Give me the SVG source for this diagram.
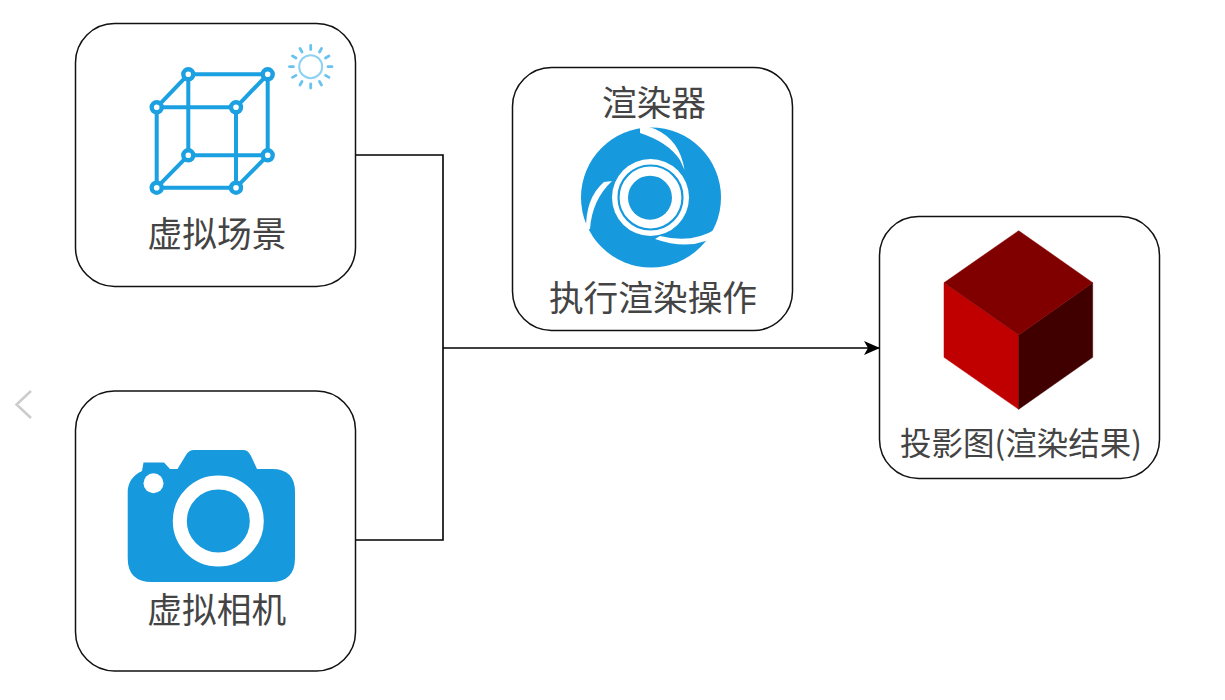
<svg xmlns="http://www.w3.org/2000/svg" width="1225" height="700" viewBox="0 0 1225 700">
<defs>
<style>
.box{fill:#fff;stroke:#111;stroke-width:1.5}
.lbl{font-family:"Noto Sans CJK SC","Noto Sans",sans-serif;fill:#444;text-anchor:middle}
.big{font-size:34.700px}
.conn{fill:none;stroke:#000;stroke-width:1.6}
.wire{fill:none;stroke:#1ba0e1;stroke-width:4}
.dot{fill:#fff;stroke:#1ba0e1;stroke-width:4.4}
.ray{stroke:#68c3ef;stroke-width:2.8;stroke-linecap:round}
.slit{fill:#fff}
.blue{fill:#1799dd}
</style>
<marker id="arrow" markerUnits="userSpaceOnUse" markerWidth="17" markerHeight="14" refX="16" refY="7" orient="auto"><path d="M0 0L16 7L0 14L4 7Z" fill="#000"/></marker>
</defs>
<rect width="1225" height="700" fill="#fff"/>
<path d="M31 391L16.500 404.500L31 418" fill="none" stroke="#ccc" stroke-width="2.500"/>
<g id="connectors">
<path class="conn" d="M356 155H443V348"/>
<path class="conn" d="M356 540H443V348"/>
<path class="conn" d="M443 348H880" marker-end="url(#arrow)"/>
</g>
<g id="scene">
<rect class="box" x="75.500" y="23.500" width="280" height="263" rx="39"/>
<path class="wire" d="M156.700 107.300H236V187.700H156.700ZM188.300 74.300H267.700V155.300H188.300ZM156.700 107.300L188.300 74.300M236 107.300L267.700 74.300M156.700 187.700L188.300 155.300M236 187.700L267.700 155.300"/>
<g class="dot"><circle cx="156.700" cy="107.300" r="5"/><circle cx="236" cy="107.300" r="5"/><circle cx="188.300" cy="74.300" r="5"/><circle cx="267.700" cy="74.300" r="5"/><circle cx="156.700" cy="187.700" r="5"/><circle cx="236" cy="187.700" r="5"/><circle cx="188.300" cy="155.300" r="5"/><circle cx="267.700" cy="155.300" r="5"/></g>
<circle cx="310.700" cy="66.700" r="11.500" fill="none" stroke="#8dd2f3" stroke-width="2"/>
<g class="ray"><path d="M310.700 45.500V49.500M310.700 84V88M289.500 66.700H293.500M328 66.700H332M300 48.500L302 52M319.500 81.500L321.500 85M292.500 56L296 58M325.500 75.400L329 77.400M321.500 48.500L319.500 52M302 81.500L300 85M329 56L325.500 58M296 75.400L292.500 77.400"/></g>
<text class="lbl big" x="217" y="247">虚拟场景</text>
</g>
<g id="camera">
<rect class="box" x="75.500" y="391" width="280" height="280" rx="39"/>
<path d="M142 471L143.500 462.500H164L170 469H177.500L186 455Q189 450 194 450H244Q248 450 251 456L257 469H272Q295 469 295 492V558Q295 582 271 582H152Q127.700 582 127.700 558V492Q127.700 478 142 471Z" class="blue"/>
<circle cx="153.500" cy="483.300" r="10" fill="#fff"/>
<circle cx="218.300" cy="521" r="38.500" class="blue" stroke="#fff" stroke-width="14"/>
<text class="lbl big" x="216.700" y="623">虚拟相机</text>
</g>
<g id="renderer">
<rect class="box" x="512.500" y="67.500" width="280" height="263" rx="39"/>
<circle cx="651" cy="197.500" r="70" class="blue"/>
<circle cx="650.500" cy="197.500" r="38.500" fill="#fff"/>
<path class="slit" d="M640 124L655 129Q680 140 684.500 170L680 160Q668 142 640 133Z"/>
<path class="slit" d="M578 232L590 229Q592 200 612 181L604 182Q585 198 586 232Z"/>
<path class="slit" d="M722 226L716 229Q692 244 660 236L655 239Q695 253 722 232Z"/>
<circle cx="650.500" cy="197.500" r="32" fill="none" stroke="#1799dd" stroke-width="2.200"/>
<circle cx="650" cy="197.700" r="22" class="blue"/>
<text class="lbl big" x="654" y="116">渲染器</text>
<text class="lbl big" x="653" y="311">执行渲染操作</text>
</g>
<g id="result">
<rect class="box" x="879.500" y="216.500" width="280" height="262" rx="39"/>
<path d="M944 282.700L1018.700 335V409.300L944 357.300Z" fill="#c00000" stroke="#c00000" stroke-width=".5"/>
<path d="M1092.700 282.700L1018.700 335V409.300L1092.700 357.300Z" fill="#400000" stroke="#400000" stroke-width=".5"/>
<path d="M1018.700 230.700L1092.700 282.700L1018.700 335L944 282.700Z" fill="#800000" stroke="#800000" stroke-width=".5"/>
<text class="lbl" x="1021" y="455" font-size="31.500">投影图(渲染结果)</text>
</g>
</svg>
